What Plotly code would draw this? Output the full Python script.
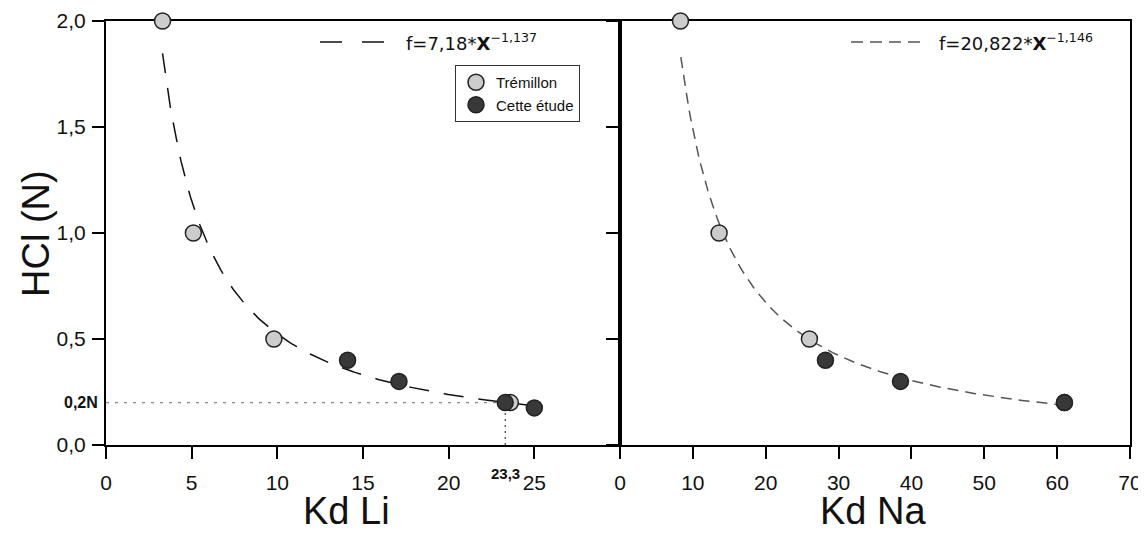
import numpy as np
import plotly.graph_objects as go

# ---- data ----
li_trem_x = [3.3, 5.1, 9.8, 23.6]
li_trem_y = [2.0, 1.0, 0.5, 0.2]
li_etude_x = [14.1, 17.1, 23.3, 25.0]
li_etude_y = [0.4, 0.3, 0.2, 0.175]

na_trem_x = [8.3, 13.6, 26.0, 61.0]
na_trem_y = [2.0, 1.0, 0.5, 0.2]
na_etude_x = [28.2, 38.5, 61.0]
na_etude_y = [0.4, 0.3, 0.2]

# fit parameters shown on the chart
li_a, li_b = 7.18, -1.137
na_a, na_b = 20.822, -1.146
li_fit_range = (3.3, 25.0)
na_fit_range = (8.35, 61.0)

ref_y = 0.2
ref_x = 23.3

y_ticks = [0.0, 0.5, 1.0, 1.5, 2.0]
li_ticks = [0, 5, 10, 15, 20, 25]
na_ticks = [0, 10, 20, 30, 40, 50, 60, 70]

FONT = "Liberation Sans, Arial, Helvetica, sans-serif"
EQ_FONT = "DejaVu Sans, sans-serif"
LIGHT = "#cccccc"
DARK = "#383838"
EDGE = "#222222"

# page body has an 8px offset; screen coords -> paper coords
PX0, PY0, PW, PH = 106, 445, 1024, 424


def px(X):
    return (X - PX0) / PW


def py(Y):
    return (PY0 - Y) / PH


fig = go.Figure()

li_fx = np.linspace(li_fit_range[0], li_fit_range[1], 200)
na_fx = np.linspace(na_fit_range[0], na_fit_range[1], 200)
fig.add_trace(go.Scatter(x=li_fx, y=li_a * li_fx ** li_b, mode="lines",
                         line=dict(color="#111111", width=1.5, dash="20px,15px"),
                         showlegend=False, xaxis="x", yaxis="y", hoverinfo="skip"))
fig.add_trace(go.Scatter(x=na_fx, y=na_a * na_fx ** na_b, mode="lines",
                         line=dict(color="#555555", width=1.5, dash="11px,7px"),
                         showlegend=False, xaxis="x2", yaxis="y2", hoverinfo="skip"))

mk_light = dict(size=16, color=LIGHT, line=dict(color=EDGE, width=1.5))
mk_dark = dict(size=16, color=DARK, line=dict(color=EDGE, width=1.5))

fig.add_trace(go.Scatter(x=li_trem_x, y=li_trem_y, mode="markers", marker=mk_light,
                         name="Trémillon", cliponaxis=False, xaxis="x", yaxis="y"))
fig.add_trace(go.Scatter(x=li_etude_x, y=li_etude_y, mode="markers", marker=mk_dark,
                         name="Cette étude", cliponaxis=False, xaxis="x", yaxis="y"))
fig.add_trace(go.Scatter(x=na_trem_x, y=na_trem_y, mode="markers", marker=mk_light,
                         showlegend=False, cliponaxis=False, xaxis="x2", yaxis="y2"))
fig.add_trace(go.Scatter(x=na_etude_x, y=na_etude_y, mode="markers", marker=mk_dark,
                         showlegend=False, cliponaxis=False, xaxis="x2", yaxis="y2"))

# reference dotted lines
fig.add_shape(type="line", xref="x", yref="y", x0=0, x1=ref_x, y0=ref_y, y1=ref_y,
              line=dict(color="#888888", width=1.2, dash="3px,6px"), layer="below")
fig.add_shape(type="line", xref="x", yref="y", x0=ref_x, x1=ref_x, y0=0, y1=ref_y,
              line=dict(color="#111111", width=1, dash="2px,4px"), layer="below")

# legend sample lines for fits
fig.add_shape(type="line", xref="paper", yref="paper",
              x0=px(320), x1=px(384), y0=py(42), y1=py(42),
              line=dict(color="#111111", width=1.5, dash="22px,20px"))
fig.add_shape(type="line", xref="paper", yref="paper",
              x0=px(851), x1=px(925), y0=py(42), y1=py(42),
              line=dict(color="#555555", width=1.5, dash="12px,7px"))

axis_common = dict(showline=True, linecolor="black", linewidth=2, mirror=True,
                   ticks="outside", ticklen=12, tickwidth=2, tickcolor="black",
                   showgrid=False, zeroline=False, layer="below traces",
                   automargin=False,
                   tickfont=dict(family=FONT, size=21, color="#111111"))

fig.update_layout(
    width=1138, height=525,
    margin=dict(l=98, r=16, t=13, b=88),
    plot_bgcolor="white", paper_bgcolor="white",
    separators=", ",
    xaxis=dict(domain=[0, 514 / 1024], range=[0, 30], tickvals=li_ticks,
               ticklabelstandoff=6, **axis_common),
    xaxis2=dict(domain=[514 / 1024, 1], range=[0, 70], tickvals=na_ticks, anchor="y2",
                ticklabelstandoff=6, **axis_common),
    yaxis=dict(range=[0, 2], tickvals=y_ticks, tickformat=".1f", anchor="x",
               ticklabelstandoff=2, **axis_common),
    yaxis2=dict(range=[0, 2], tickvals=y_ticks, showticklabels=False, anchor="x2", **axis_common),
    legend=dict(x=px(455), y=py(65), xanchor="left", yanchor="top",
                bordercolor="#333333", borderwidth=1, bgcolor="white",
                font=dict(family=FONT, size=15, color="#111111"),
                itemwidth=30, tracegroupgap=0),
    showlegend=True,
)

annos = [
    dict(text="Kd Li", x=px(346), y=py(511), font=dict(size=38)),
    dict(text="Kd Na", x=px(873), y=py(511), font=dict(size=38)),
    dict(text="HCl (N)", x=px(36), y=py(234), textangle=-90, font=dict(size=38)),
]
for a in annos:
    fig.add_annotation(xref="paper", yref="paper", showarrow=False,
                       xanchor="center", yanchor="middle",
                       **{k: v for k, v in a.items() if k != "font"},
                       font=dict(family=FONT, color="#111111", **a["font"]))

fig.add_annotation(xref="paper", yref="y", x=px(100), y=ref_y, text="<b>0,2N</b>",
                   showarrow=False, xanchor="right", yanchor="middle",
                   font=dict(family=FONT, size=16, color="#111111"))
fig.add_annotation(xref="x", yref="paper", x=ref_x, y=py(473), text="<b>23,3</b>",
                   showarrow=False, xanchor="center", yanchor="middle",
                   font=dict(family=FONT, size=15, color="#111111"))

fig.add_annotation(xref="paper", yref="paper", x=px(404), y=py(42),
                   text="f=7,18*<b>X</b><sup>−1,137</sup>", showarrow=False,
                   xanchor="left", yanchor="middle",
                   font=dict(family=EQ_FONT, size=18, color="#111111"))
fig.add_annotation(xref="paper", yref="paper", x=px(937), y=py(42),
                   text="f=20,822*<b>X</b><sup>−1,146</sup>", showarrow=False,
                   xanchor="left", yanchor="middle",
                   font=dict(family=EQ_FONT, size=18, color="#111111"))

fig.write_html("out.html")
